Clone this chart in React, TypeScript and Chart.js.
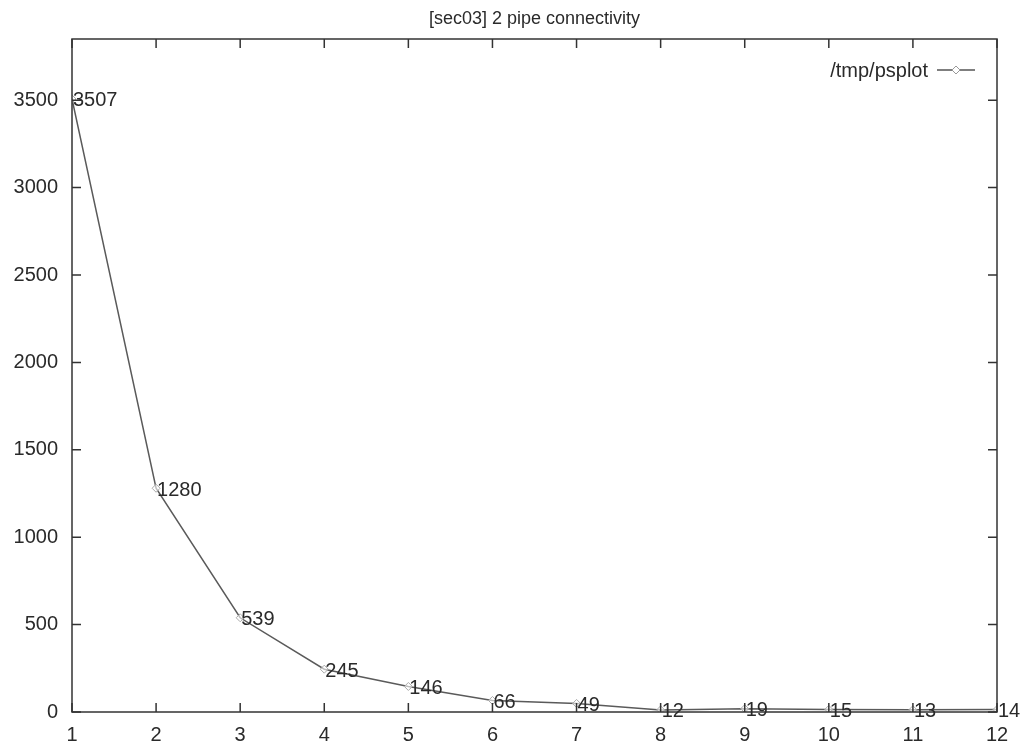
import React, { useEffect, useRef } from "react";
import { Chart, registerables } from "chart.js";

Chart.register(...registerables);

const chartTitle = "[sec03] 2 pipe connectivity";
const seriesName = "/tmp/psplot";
const xValues = [1, 2, 3, 4, 5, 6, 7, 8, 9, 10, 11, 12];
const yValues = [3507, 1280, 539, 245, 146, 66, 49, 12, 19, 15, 13, 14];
const pointLabels = ["3507", "1280", "539", "245", "146", "66", "49", "12", "19", "15", "13", "14"];
const yTickValues = [0, 500, 1000, 1500, 2000, 2500, 3000, 3500];
const yMin = 0;
const yMax = 3850;
const xMin = 1;
const xMax = 12;

const FONT = "Liberation Sans, Arial, sans-serif";
const TEXT = "#2a2a2a";

const gnuplotPlugin = {
  id: "gnuplotDecor",
  afterDraw(chart: any) {
    const ctx = chart.ctx;
    const { left, right, top, bottom } = chart.chartArea;
    const xs = chart.scales.x;
    const ys = chart.scales.y;
    ctx.save();
    // frame
    ctx.strokeStyle = "#333";
    ctx.lineWidth = 1.5;
    ctx.strokeRect(left, top, right - left, bottom - top);
    // inward ticks
    const tl = 9;
    ctx.beginPath();
    yTickValues.forEach((v) => {
      const y = ys.getPixelForValue(v);
      ctx.moveTo(left, y);
      ctx.lineTo(left + tl, y);
      ctx.moveTo(right, y);
      ctx.lineTo(right - tl, y);
    });
    xValues.forEach((v) => {
      const x = xs.getPixelForValue(v);
      ctx.moveTo(x, bottom);
      ctx.lineTo(x, bottom - tl);
      ctx.moveTo(x, top);
      ctx.lineTo(x, top + tl);
    });
    ctx.stroke();
    // title
    ctx.fillStyle = TEXT;
    ctx.font = `18px ${FONT}`;
    ctx.textAlign = "center";
    ctx.textBaseline = "middle";
    ctx.fillText(chartTitle, (left + right) / 2, 19);
    // point labels
    const meta = chart.getDatasetMeta(0);
    ctx.font = `20px ${FONT}`;
    ctx.textAlign = "left";
    ctx.textBaseline = "middle";
    meta.data.forEach((pt: any, i: number) => {
      ctx.fillText(pointLabels[i], pt.x + 1, pt.y + 2);
    });
    // legend
    const ly = 70;
    ctx.textAlign = "right";
    ctx.fillText(chart.data.datasets[0].label, 928, ly + 1);
    ctx.strokeStyle = "#555";
    ctx.lineWidth = 1.5;
    ctx.beginPath();
    ctx.moveTo(937, ly);
    ctx.lineTo(975, ly);
    ctx.stroke();
    ctx.strokeStyle = "#999";
    ctx.fillStyle = "#fff";
    ctx.lineWidth = 1;
    ctx.beginPath();
    ctx.moveTo(956, ly - 4);
    ctx.lineTo(960, ly);
    ctx.lineTo(956, ly + 4);
    ctx.lineTo(952, ly);
    ctx.closePath();
    ctx.fill();
    ctx.stroke();
    ctx.restore();
  },
};

export default function App() {
  const ref = useRef<HTMLCanvasElement>(null);
  useEffect(() => {
    if (!ref.current) return;
    const chart = new Chart(ref.current, {
      type: "line",
      data: {
        datasets: [
          {
            label: seriesName,
            data: xValues.map((x, i) => ({ x, y: yValues[i] })),
            borderColor: "#5a5a5a",
            borderWidth: 1.5,
            pointStyle: "rectRot",
            pointRadius: 4,
            pointBorderColor: "#aaa",
            pointBackgroundColor: "rgba(255,255,255,0.6)",
            pointBorderWidth: 1,
            tension: 0,
            fill: false,
          },
        ],
      },
      options: {
        animation: false,
        responsive: false,
        maintainAspectRatio: false,
        layout: { padding: { top: 39, left: 0, right: 27, bottom: 0 } },
        plugins: {
          legend: { display: false },
          title: { display: false },
          tooltip: { enabled: false },
        },
        scales: {
          x: {
            type: "linear",
            min: xMin,
            max: xMax,
            grid: { display: false, drawTicks: false },
            border: { display: false },
            afterFit: (s: any) => {
              s.height = 37;
            },
            afterBuildTicks: (s: any) => {
              s.ticks = xValues.map((v) => ({ value: v }));
            },
            ticks: {
              stepSize: 1,
              autoSkip: false,
              maxRotation: 0,
              padding: 11,
              color: TEXT,
              font: { family: FONT, size: 20 },
              callback: (v: any) => String(v),
            },
          },
          y: {
            type: "linear",
            min: yMin,
            max: yMax,
            grid: { display: false, drawTicks: false },
            border: { display: false },
            afterFit: (s: any) => {
              s.width = 72;
            },
            afterBuildTicks: (s: any) => {
              s.ticks = yTickValues.map((v) => ({ value: v }));
            },
            ticks: {
              stepSize: 500,
              padding: 14,
              color: TEXT,
              font: { family: FONT, size: 20 },
              callback: (v: any) => String(v),
            },
          },
        },
      },
      plugins: [gnuplotPlugin],
    });
    return () => chart.destroy();
  }, []);
  return (
    <div style={{ position: "fixed", left: 0, top: 0, width: 1024, height: 749, background: "#fff" }}>
      <canvas ref={ref} width={1024} height={749} style={{ display: "block", width: 1024, height: 749 }} />
    </div>
  );
}
